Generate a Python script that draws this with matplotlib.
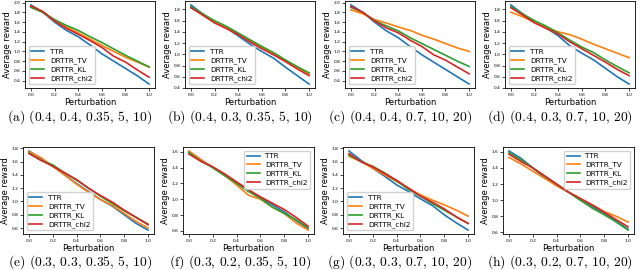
import matplotlib
matplotlib.use('Agg')
import matplotlib.pyplot as plt
import numpy as np

plt.rcParams.update({
    'font.family': 'DejaVu Sans',
    'mathtext.fontset': 'cm',
    'axes.linewidth': 0.6,
    'xtick.major.width': 0.5,
    'ytick.major.width': 0.5,
    'xtick.major.size': 2,
    'ytick.major.size': 2,
})

x = np.round(np.arange(0, 1.01, 0.1), 1)
series_names = ['TTR', 'DRTTR_TV', 'DRTTR_KL', 'DRTTR_chi2']
colors = ['#1f77b4', '#ff7f0e', '#2ca02c', '#d62728']

# ── values (TTR, TV, KL, chi2) ──────────────────────────────────────
ttr_a = [1.95, 1.80, 1.60, 1.43, 1.30, 1.13, 0.95, 0.80, 0.65, 0.50, 0.33]
tv_a = [1.92, 1.80, 1.63, 1.50, 1.38, 1.25, 1.12, 1.00, 0.88, 0.78, 0.68]
kl_a = [1.90, 1.80, 1.65, 1.53, 1.43, 1.30, 1.18, 1.05, 0.92, 0.80, 0.68]
chi_a = [1.93, 1.82, 1.62, 1.47, 1.35, 1.22, 1.08, 0.90, 0.78, 0.62, 0.47]

ttr_b = [1.88, 1.72, 1.57, 1.47, 1.33, 1.18, 1.05, 0.93, 0.77, 0.62, 0.47]
tv_b = [1.84, 1.70, 1.57, 1.48, 1.37, 1.24, 1.12, 1.00, 0.88, 0.77, 0.65]
kl_b = [1.85, 1.72, 1.60, 1.50, 1.38, 1.26, 1.14, 1.03, 0.90, 0.78, 0.67]
chi_b = [1.83, 1.70, 1.56, 1.46, 1.35, 1.22, 1.10, 0.99, 0.87, 0.74, 0.62]

ttr_c = [1.95, 1.80, 1.60, 1.42, 1.28, 1.10, 0.93, 0.78, 0.63, 0.48, 0.33]
tv_c = [1.85, 1.77, 1.65, 1.58, 1.50, 1.43, 1.33, 1.25, 1.16, 1.07, 1.00]
kl_c = [1.90, 1.80, 1.63, 1.52, 1.42, 1.28, 1.16, 1.04, 0.92, 0.80, 0.69]
chi_c = [1.92, 1.80, 1.62, 1.48, 1.38, 1.23, 1.10, 0.93, 0.82, 0.68, 0.54]

ttr_d = [1.88, 1.72, 1.57, 1.47, 1.33, 1.15, 1.02, 0.90, 0.75, 0.60, 0.47]
tv_d = [1.75, 1.67, 1.57, 1.48, 1.40, 1.35, 1.27, 1.18, 1.10, 1.02, 0.94]
kl_d = [1.85, 1.72, 1.60, 1.50, 1.38, 1.25, 1.13, 1.03, 0.90, 0.78, 0.67]
chi_d = [1.83, 1.70, 1.56, 1.46, 1.36, 1.22, 1.10, 0.98, 0.86, 0.73, 0.62]

ttr_e = [1.76, 1.65, 1.53, 1.40, 1.27, 1.15, 1.03, 0.93, 0.80, 0.67, 0.57]
tv_e = [1.75, 1.66, 1.53, 1.40, 1.26, 1.14, 1.03, 0.94, 0.82, 0.70, 0.60]
kl_e = [1.73, 1.62, 1.55, 1.43, 1.32, 1.20, 1.08, 0.97, 0.86, 0.76, 0.66]
chi_e = [1.72, 1.62, 1.53, 1.43, 1.33, 1.20, 1.09, 0.99, 0.87, 0.76, 0.65]

ttr_f = [1.60, 1.50, 1.40, 1.30, 1.20, 1.10, 1.02, 0.93, 0.84, 0.73, 0.63]
tv_f = [1.61, 1.50, 1.40, 1.30, 1.18, 1.05, 1.00, 0.90, 0.82, 0.70, 0.61]
kl_f = [1.59, 1.48, 1.40, 1.30, 1.20, 1.10, 1.01, 0.90, 0.82, 0.74, 0.64]
chi_f = [1.57, 1.48, 1.41, 1.32, 1.22, 1.12, 1.03, 0.95, 0.87, 0.77, 0.66]

ttr_g = [1.76, 1.62, 1.50, 1.38, 1.25, 1.15, 1.04, 0.94, 0.80, 0.68, 0.57]
tv_g = [1.68, 1.60, 1.50, 1.40, 1.30, 1.20, 1.10, 1.02, 0.95, 0.87, 0.78]
kl_g = [1.70, 1.60, 1.53, 1.43, 1.31, 1.18, 1.08, 0.97, 0.87, 0.77, 0.67]
chi_g = [1.72, 1.60, 1.52, 1.42, 1.32, 1.20, 1.08, 0.99, 0.89, 0.77, 0.67]

ttr_h = [1.61, 1.52, 1.40, 1.28, 1.18, 1.10, 1.00, 0.92, 0.84, 0.74, 0.64]
tv_h = [1.53, 1.45, 1.36, 1.27, 1.18, 1.10, 1.02, 0.94, 0.86, 0.80, 0.73]
kl_h = [1.59, 1.50, 1.40, 1.30, 1.20, 1.10, 1.00, 0.90, 0.82, 0.73, 0.63]
chi_h = [1.57, 1.48, 1.40, 1.30, 1.20, 1.10, 1.02, 0.94, 0.85, 0.76, 0.67]

panels = [
    ('(a)', '(0.4, 0.4, 0.35, 5, 10)', [ttr_a, tv_a, kl_a, chi_a], 'lower left'),
    ('(b)', '(0.4, 0.3, 0.35, 5, 10)', [ttr_b, tv_b, kl_b, chi_b], 'lower left'),
    ('(c)', '(0.4, 0.4, 0.7, 10, 20)', [ttr_c, tv_c, kl_c, chi_c], 'lower left'),
    ('(d)', '(0.4, 0.3, 0.7, 10, 20)', [ttr_d, tv_d, kl_d, chi_d], 'lower left'),
    ('(e)', '(0.3, 0.3, 0.35, 5, 10)', [ttr_e, tv_e, kl_e, chi_e], 'lower left'),
    ('(f)', '(0.3, 0.2, 0.35, 5, 10)', [ttr_f, tv_f, kl_f, chi_f], 'upper right'),
    ('(g)', '(0.3, 0.3, 0.7, 10, 20)', [ttr_g, tv_g, kl_g, chi_g], 'lower left'),
    ('(h)', '(0.3, 0.2, 0.7, 10, 20)', [ttr_h, tv_h, kl_h, chi_h], 'upper right'),
]

W, H = 640, 270
fig = plt.figure(figsize=(W / 100, H / 100), dpi=100)

for i, (tag, params, ys, loc) in enumerate(panels):
    row, col = divmod(i, 4)
    if row == 0:
        left, top, right, bottom = 25 + 160 * col, 1, 155 + 160 * col, 88
        cap_y = 117
    else:
        left, top, right, bottom = 23 + 160 * col, 147, 154 + 160 * col, 234
        cap_y = 262
    ax = fig.add_axes([left / W, 1 - bottom / H, (right - left) / W, (bottom - top) / H])
    for name, y, c in zip(series_names, ys, colors):
        ax.plot(x, y, color=c, lw=1.2, label=name)
    ax.set_xticks(np.arange(0, 1.01, 0.2))
    ax.tick_params(labelsize=3.2, pad=1.5)
    ax.set_xlabel('Perturbation', fontsize=6, labelpad=1)
    ax.set_ylabel('Average reward', fontsize=6, labelpad=1)
    ax.legend(loc=loc, fontsize=5.2, handlelength=1.8, borderpad=0.35,
              labelspacing=0.3, handletextpad=0.8, framealpha=0.9)
    fig.text((160 * col + 80) / W, 1 - cap_y / H,
             tag + ' $' + params.replace(' ', r'\,') + '$',
             ha='center', va='center', fontsize=9.8, family='cmr10')

fig.savefig('out.png', dpi=100)
